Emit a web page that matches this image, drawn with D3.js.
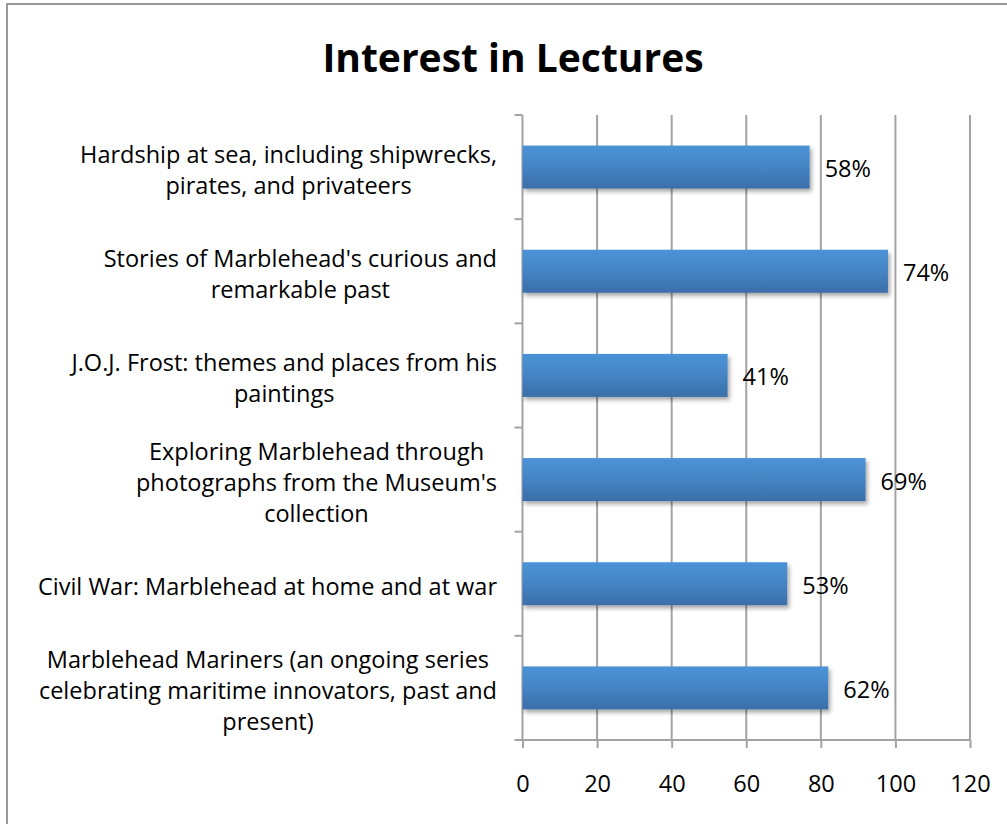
<!DOCTYPE html>
<html>
<head>
<meta charset="utf-8">
<script src="https://cdn.jsdelivr.net/npm/d3@7"></script>
<style>
  html, body { margin: 0; padding: 0; background: #fff; }
  svg { display: block; font-family: "Open Sans", Lato, sans-serif; }
</style>
</head>
<body>
<div id="chart"></div>
<script>
// category labels, one array of lines each (top to bottom)
const categories = [
    ["Hardship at sea, including shipwrecks,", "pirates, and privateers"],
    ["Stories of Marblehead's curious and", "remarkable past"],
    ["J.O.J. Frost: themes and places from his", "paintings"],
    ["Exploring Marblehead through", "photographs from the Museum's", "collection"],
    ["Civil War: Marblehead at home and at war"],
    ["Marblehead Mariners (an ongoing series", "celebrating maritime innovators, past and", "present)"]
];
// bar lengths (respondents) and the percentage printed beside each bar
const values = [77, 98, 55, 92, 71, 82];
const percentLabels = ["58%", "74%", "41%", "69%", "53%", "62%"];
const xTicks = [0, 20, 40, 60, 80, 100, 120];
const title = "Interest in Lectures";

const width = 1007, height = 824;
const plot = { left: 522.5, right: 970, top: 115, bottom: 740 };
const gridColor = "#a3a3a3";
const fontSize = '23.5px';

const svg = d3.select('#chart').append('svg')
    .attr('width', width)
    .attr('height', height);

// bar gradient + soft shadow
const defs = svg.append('defs');
const grad = defs.append('linearGradient')
    .attr('id', 'barGrad')
    .attr('x1', 0).attr('y1', 0).attr('x2', 0).attr('y2', 1);
grad.append('stop').attr('offset', '0%').attr('stop-color', '#4b93d7');
grad.append('stop').attr('offset', '45%').attr('stop-color', '#4686c6');
grad.append('stop').attr('offset', '100%').attr('stop-color', '#3a6ea8');

const shadow = defs.append('filter')
    .attr('id', 'barShadow')
    .attr('x', '-5%').attr('y', '-20%').attr('width', '115%').attr('height', '160%');
shadow.append('feDropShadow')
    .attr('dx', 2).attr('dy', 3)
    .attr('stdDeviation', 2)
    .attr('flood-color', '#000')
    .attr('flood-opacity', 0.35);

// outer frame
svg.append('rect')
    .attr('x', 7).attr('y', 4)
    .attr('width', width + 10).attr('height', height + 10)
    .attr('fill', 'none')
    .attr('stroke', '#999')
    .attr('stroke-width', 2);

const x = d3.scaleLinear()
    .domain([0, 120])
    .range([plot.left, plot.right]);

const y = d3.scaleBand()
    .domain(d3.range(categories.length))
    .range([plot.top, plot.bottom])
    .paddingInner(0.587)
    .paddingOuter(0.2935);

// vertical gridlines
svg.append('g')
    .attr('class', 'grid')
    .selectAll('line')
    .data(xTicks.slice(1))
    .enter().append('line')
    .attr('x1', d => x(d)).attr('x2', d => x(d))
    .attr('y1', plot.top).attr('y2', plot.bottom)
    .attr('stroke', gridColor)
    .attr('stroke-width', 2);

// x axis
const xAxis = svg.append('g')
    .attr('transform', `translate(0,${plot.bottom})`)
    .call(d3.axisBottom(x).tickValues(xTicks).tickSize(8).tickPadding(27).tickSizeOuter(0));
xAxis.select('.domain')
    .attr('stroke', gridColor).attr('stroke-width', 2)
    .attr('d', `M${plot.left - 8},0H${plot.right}`);
xAxis.selectAll('.tick line').attr('stroke', gridColor).attr('stroke-width', 2);
xAxis.selectAll('.tick text')
    .attr('fill', '#000')
    .style('font-size', fontSize)
    .style('font-family', '"Open Sans", Lato, sans-serif');

// y axis line and category boundary ticks
const yAxis = svg.append('g');
yAxis.append('line')
    .attr('x1', plot.left).attr('x2', plot.left)
    .attr('y1', plot.top).attr('y2', plot.bottom)
    .attr('stroke', gridColor).attr('stroke-width', 2);
const step = y.step();
yAxis.selectAll('.ytick')
    .data(d3.range(categories.length))
    .enter().append('line')
    .attr('class', 'ytick')
    .attr('x1', plot.left - 8).attr('x2', plot.left)
    .attr('y1', i => plot.top + i * step)
    .attr('y2', i => plot.top + i * step)
    .attr('stroke', gridColor).attr('stroke-width', 2);

// bars
svg.append('g')
    .selectAll('rect')
    .data(values)
    .enter().append('rect')
    .attr('x', x(0))
    .attr('y', (d, i) => y(i))
    .attr('width', d => x(d) - x(0))
    .attr('height', y.bandwidth())
    .attr('fill', 'url(#barGrad)')
    .attr('filter', 'url(#barShadow)');

// percent labels
svg.append('g')
    .selectAll('text')
    .data(values)
    .enter().append('text')
    .attr('x', d => x(d) + 15)
    .attr('y', (d, i) => y(i) + y.bandwidth() / 2 + 10)
    .style('font-size', fontSize)
    .attr('fill', '#000')
    .text((d, i) => percentLabels[i]);

// category labels: lines centred on each other, block right-aligned
const lineH = 31;
const labelRight = 497;
const labels = svg.append('g')
    .selectAll('text')
    .data(categories)
    .enter().append('text')
    .style('font-size', fontSize)
    .attr('fill', '#000')
    .attr('text-anchor', 'middle');

labels.each(function (lines, i) {
    const t = d3.select(this);
    const c = y(i) + y.bandwidth() / 2;
    lines.forEach((ln, j) => {
        t.append('tspan')
            .attr('y', c + 11 + (j - (lines.length - 1) / 2) * lineH)
            .text(ln);
    });
    let maxW = 0;
    t.selectAll('tspan').each(function () {
        maxW = Math.max(maxW, this.getComputedTextLength());
    });
    t.selectAll('tspan').attr('x', labelRight - maxW / 2);
});

// title
svg.append('text')
    .attr('x', 513)
    .attr('y', 72)
    .attr('text-anchor', 'middle')
    .style('font-size', '39px')
    .style('font-weight', 'bold')
    .attr('fill', '#000')
    .text(title);
</script>
</body>
</html>
